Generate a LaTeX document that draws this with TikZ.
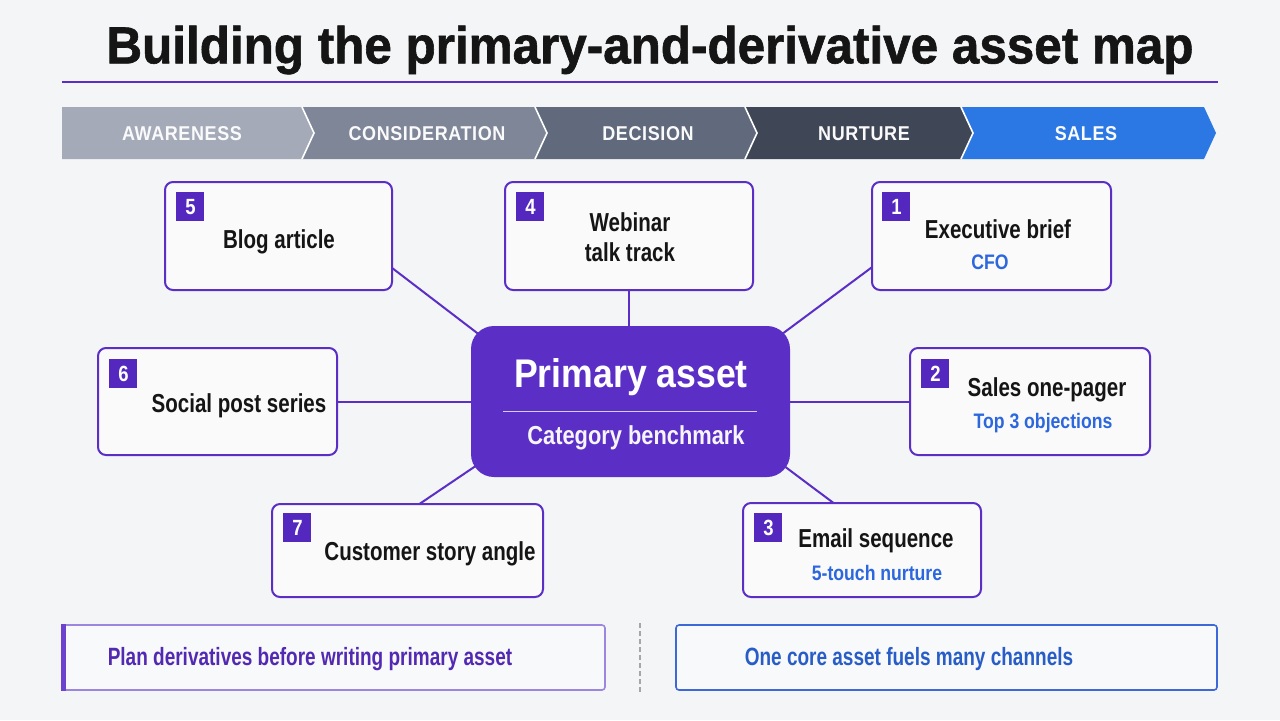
\documentclass[tikz,border=0pt]{standalone}
\usepackage{fontspec}
\setmainfont{Liberation Sans}[FakeStretch=0.84]
\newfontfamily\titlefont{Liberation Sans}[FakeStretch=0.95,FakeBold=1.2]
\newfontfamily\boxfont{Liberation Sans}[FakeStretch=0.79]
\newfontfamily\notefont{Liberation Sans}[FakeStretch=0.76]
\newfontfamily\corefont{Liberation Sans}[FakeStretch=0.89]
\newfontfamily\stagefont{Liberation Sans}[FakeStretch=0.9,LetterSpace=3]
\usetikzlibrary{positioning,calc,backgrounds}

\definecolor{bgc}{HTML}{F4F5F7}
\definecolor{purp}{HTML}{5B2EC6}
\definecolor{badgec}{HTML}{5427BF}
\definecolor{bluetx}{HTML}{2C67DD}
\definecolor{stageA}{HTML}{A4AAB8}
\definecolor{stageB}{HTML}{7E8698}
\definecolor{stageC}{HTML}{606A7C}
\definecolor{stageD}{HTML}{3F4655}
\definecolor{stageE}{HTML}{2B78E4}
\definecolor{noteP}{HTML}{9D86E0}
\definecolor{noteB}{HTML}{3D68D8}
\definecolor{inkc}{HTML}{151515}

\begin{document}
\begin{tikzpicture}[x=0.5pt, y=-0.5pt,
    asset/.style={draw=purp, line width=1pt, rounded corners=4pt, fill=white!55!bgc, inner sep=0pt},
    badge/.style={fill=badgec, text=white, minimum width=14pt, minimum height=14.5pt, inner sep=0pt, anchor=north west, font=\bfseries\fontsize{11}{11}\selectfont},
    lbl/.style={font=\boxfont\bfseries\fontsize{13}{15}\selectfont, text=inkc, align=center},
    sub/.style={font=\bfseries\fontsize{10.5}{12}\selectfont, text=bluetx},
    stage/.style={font=\stagefont\bfseries\fontsize{10}{10}\selectfont, text=white!94!stageA},
    note/.style={font=\notefont\bfseries\fontsize{12.5}{14}\selectfont},
    link/.style={purp, line width=1pt}]
    % 背景
    \useasboundingbox (0,0) rectangle (1280,720);

    % 标题
    \node[font=\titlefont\bfseries\fontsize{26}{28}\selectfont, text=inkc] (title) at (650,50) {Building the primary-and-derivative asset map};
    \draw[purp, line width=1pt] (62,82) -- (1218,82);

    % 阶段条
    \foreach \l/\r/\n/\c/\txt/\tx [count=\i] in {62/302/0/stageA/AWARENESS/182, 302/535/12/stageB/CONSIDERATION/427, 535/745/12/stageC/DECISION/648, 745/961/12/stageD/NURTURE/864, 961/1204/12/stageE/SALES/1086} {
        \fill[\c] (\l,107) -- (\r,107) -- (\r+12,133) -- (\r,159) -- (\l,159) -- (\l+\n,133) -- cycle;
        \node[stage] (st\i) at (\tx,134) {\txt};
    }
    \foreach \x in {302,535,745,961} \draw[white, line width=0.8pt] (\x,107) -- (\x+12,133) -- (\x,159);

    % 主资产
    \node[asset, fill=purp, draw=purp, rounded corners=11pt, minimum width=158.5pt, minimum height=74.5pt] (prim) at (630.5,401.5) {};
    \node[font=\corefont\bfseries\fontsize{20}{22}\selectfont, text=white] (primt) at (631,377) {Primary asset};
    \draw[white!75!purp, line width=0.6pt] ($(prim.west)+(32,10)$) -- ($(prim.east)+(-33,10)$);
    \node[font=\bfseries\fontsize{13}{15}\selectfont, text=white!95!purp] (prims) at (636,438) {Category benchmark};

    % 衍生资产
    \node[asset, minimum width=113.5pt, minimum height=54pt] (blog) at (278.5,236) {};
    \node[asset, minimum width=124pt, minimum height=54pt] (web) at (629,236) {};
    \node[asset, minimum width=119.5pt, minimum height=54pt] (exec) at (991.5,236) {};
    \node[asset, minimum width=119.5pt, minimum height=53.5pt] (soc) at (217.5,401.5) {};
    \node[asset, minimum width=120pt, minimum height=53.5pt] (sal) at (1030,401.5) {};
    \node[asset, minimum width=135.5pt, minimum height=46.5pt] (cust) at (407.5,550.5) {};
    \node[asset, minimum width=119pt, minimum height=47pt] (mail) at (862,550) {};

    % 编号
    \node[badge] (n5) at ($(blog.north west)+(12,11)$) {5};
    \node[badge] (n4) at ($(web.north west)+(12,11)$) {4};
    \node[badge] (n1) at ($(exec.north west)+(11,11)$) {1};
    \node[badge] (n6) at ($(soc.north west)+(12,12)$) {6};
    \node[badge] (n2) at ($(sal.north west)+(12,12)$) {2};
    \node[badge] (n7) at ($(cust.north west)+(12,10)$) {7};
    \node[badge] (n3) at ($(mail.north west)+(12,11)$) {3};

    % 文字
    \node[lbl] (blogt) at (279,242) {Blog article};
    \node[lbl] (webt) at (630,237) {Webinar\\talk track};
    \node[lbl] (exect) at (998,229) {Executive brief};
    \node[sub] (execs) at (990,262) {CFO};
    \node[lbl] (soct) at (239,406) {Social post series};
    \node[lbl] (salt) at (1047,390) {Sales one-pager};
    \node[sub] (sals) at (1043,423) {Top 3 objections};
    \node[lbl] (custt) at (430,554) {Customer story angle};
    \node[lbl] (mailt) at (876,541) {Email sequence};
    \node[sub] (mails) at (877,573) {5-touch nurture};

    % 连线
    \begin{pgfonlayer}{background}
        \fill[bgc] (0,0) rectangle (1280,720);
        \draw[link] ($(prim.north west)+(14,13)$) -- ($(blog.south east)+(-10,-30)$);
        \draw[link] (web.south) -- (web.south |- prim.north);
        \draw[link] ($(prim.north east)+(-16,14)$) -- ($(exec.south west)+(12,-32)$);
        \draw[link] (soc.east) -- (prim.west);
        \draw[link] (prim.east) -- (sal.west);
        \draw[link] ($(prim.south west)+(15,-18)$) -- ($(cust.north west)+(141,6)$);
        \draw[link] ($(prim.south east)+(-16,-18.6)$) -- ($(mail.north west)+(99,6.6)$);
    \end{pgfonlayer}

    % 底部提示
    \node[draw=noteP, line width=0.8pt, rounded corners=1.5pt, fill=white!40!bgc, minimum width=271.5pt, minimum height=32.5pt, inner sep=0pt] (plan) at (333.5,657.5) {};
    \fill[purp!90!white] (plan.north west) rectangle ($(plan.south west)+(5,0)$);
    \node[note, text=purp!90!black] (plant) at (310,659) {Plan derivatives before writing primary asset};
    \draw[gray!70, line width=0.8pt, dash pattern=on 2.5pt off 1.5pt] (640,623) -- (640,695);
    \node[draw=noteB, line width=0.8pt, rounded corners=1.5pt, fill=white!40!bgc, minimum width=270.5pt, minimum height=32.5pt, inner sep=0pt] (core) at (946.5,657.5) {};
    \node[note, text=bluetx!90!black] (coret) at (909,659) {One core asset fuels many channels};
\end{tikzpicture}
\end{document}
